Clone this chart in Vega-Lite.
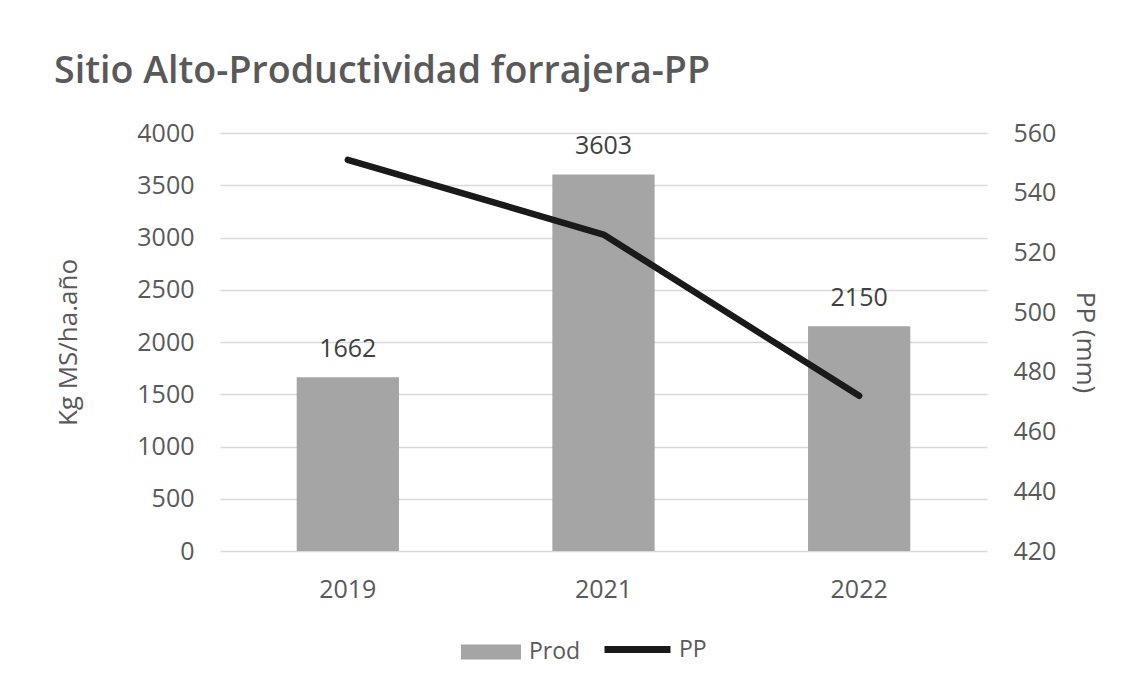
{
  "$schema": "https://vega.github.io/schema/vega-lite/v6.json",
  "width": 767,
  "height": 418,
  "autosize": {"type": "none"},
  "padding": {"left": 220, "top": 133, "right": 145, "bottom": 138},
  "background": "white",
  "title": {
    "text": "Sitio Alto-Productividad forrajera-PP",
    "anchor": "start",
    "frame": "group",
    "dx": -166,
    "dy": 45,
    "baseline": "alphabetic",
    "offset": 45,
    "font": "Open Sans",
    "fontSize": 37.6,
    "fontWeight": 600,
    "color": "#595959"
  },
  "data": {
    "values": [
      {"year": "2019", "prod": 1662, "pp": 551},
      {"year": "2021", "prod": 3603, "pp": 526},
      {"year": "2022", "prod": 2150, "pp": 472}
    ]
  },
  "encoding": {
    "x": {
      "field": "year",
      "type": "nominal",
      "scale": {"paddingInner": 0.6, "paddingOuter": 0.3},
      "axis": {
        "title": null,
        "labelAngle": 0,
        "domain": false,
        "ticks": false,
        "labelPadding": 26,
        "labelFontSize": 25,
        "labelColor": "#595959",
        "labelFont": "Open Sans"
      }
    }
  },
  "layer": [
    {
      "encoding": {
        "y": {
          "field": "prod",
          "type": "quantitative",
          "scale": {"domain": [0, 4000], "nice": false},
          "axis": {
            "title": "Kg MS/ha.año",
            "format": "d",
            "values": [0, 500, 1000, 1500, 2000, 2500, 3000, 3500, 4000],
            "grid": true,
            "gridColor": "#d9d9d9",
            "gridWidth": 1.5,
            "domain": false,
            "ticks": false,
            "labelPadding": 26,
            "labelFontSize": 25,
            "labelColor": "#595959",
            "labelFont": "Open Sans",
            "titleFont": "Open Sans",
            "titleFontSize": 26,
            "titleFontWeight": "normal",
            "titleColor": "#595959",
            "titlePadding": 55
          }
        }
      },
      "layer": [
        {
          "mark": {"type": "bar"},
          "encoding": {
            "fill": {
              "datum": "Prod",
              "type": "nominal",
              "scale": {"domain": ["Prod"], "range": ["#a5a5a5"]},
              "legend": {
                "title": null,
                "orient": "none",
                "legendX": 238,
                "legendY": 486,
                "symbolType": "M-0.909,-0.227H0.909V0.227H-0.909Z",
                "symbolSize": 4356,
                "symbolStrokeWidth": 0,
                "symbolOpacity": 1,
                "labelFontSize": 23,
                "labelColor": "#595959",
                "labelFont": "Open Sans",
                "labelOffset": 5
              }
            }
          }
        },
        {
          "mark": {
            "type": "text",
            "baseline": "alphabetic",
            "dy": -20,
            "font": "Open Sans",
            "fontSize": 25,
            "color": "#404040"
          },
          "encoding": {
            "text": {"field": "prod", "type": "quantitative", "format": "d"}
          }
        }
      ]
    },
    {
      "mark": {"type": "line", "strokeWidth": 6.5, "strokeCap": "round", "strokeJoin": "round"},
      "encoding": {
        "y": {
          "field": "pp",
          "type": "quantitative",
          "scale": {"domain": [420, 560], "nice": false, "zero": false},
          "axis": {
            "orient": "right",
            "title": "PP (mm)",
            "values": [420, 440, 460, 480, 500, 520, 540, 560],
            "grid": false,
            "domain": false,
            "ticks": false,
            "labelPadding": 26,
            "labelFontSize": 25,
            "labelColor": "#595959",
            "labelFont": "Open Sans",
            "titleFont": "Open Sans",
            "titleFontSize": 26,
            "titleFontWeight": "normal",
            "titleColor": "#595959",
            "titlePadding": 16
          }
        },
        "stroke": {
          "datum": "PP",
          "type": "nominal",
          "scale": {"domain": ["PP"], "range": ["#1a1a1a"]},
          "legend": {
            "title": null,
            "orient": "none",
            "legendX": 381,
            "legendY": 480,
            "symbolType": "stroke",
            "symbolSize": 4356,
            "symbolStrokeWidth": 7,
            "labelFontSize": 23,
            "labelColor": "#595959",
            "labelFont": "Open Sans",
            "labelOffset": 5
          }
        }
      }
    }
  ],
  "resolve": {"scale": {"y": "independent"}},
  "config": {
    "view": {"stroke": null}
  }
}
